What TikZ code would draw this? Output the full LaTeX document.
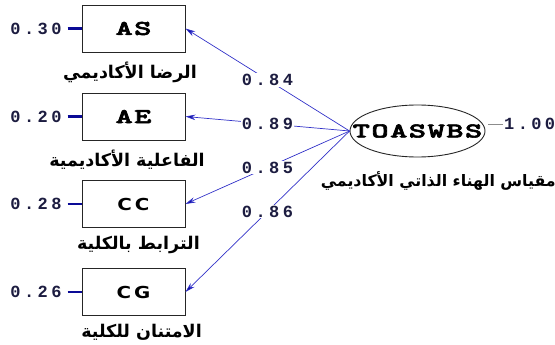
\documentclass[tikz,border=0pt]{standalone}
\usepackage{fontspec}
\usetikzlibrary{arrows.meta,shapes.geometric}
\TeXXeTstate=1
\newfontfamily\numfont[LetterSpace=20]{Liberation Mono}
\newfontfamily\slabfont[Extension=.otf, LetterSpace=5, FakeBold=2.5]{lmmonolt10-bold}
\newfontfamily\sansboxfont[LetterSpace=15]{DejaVu Sans}
\newfontfamily\arabicfont[Script=Arabic]{DejaVu Sans}
\definecolor{numcol}{RGB}{28,28,64}
\definecolor{arrcol}{RGB}{50,50,200}
\definecolor{errcol}{RGB}{10,10,150}
\newcommand{\wide}[1]{\scalebox{1.55}[1]{#1}}
\newcommand{\widesans}[1]{\scalebox{1.2}[1]{#1}}
\tikzset{
  obs/.style={draw=black!85, line width=0.9pt, minimum width=103pt, minimum height=47pt, inner sep=0pt, font=\slabfont\fontsize{21}{21}\selectfont},
  obss/.style={obs, font=\sansboxfont\bfseries\fontsize{16.5}{16.5}\selectfont},
  lat/.style={draw=black!85, line width=0.9pt, ellipse, minimum width=135pt, minimum height=52pt, inner sep=0pt},
  lattext/.style={inner sep=0pt, font=\slabfont\fontsize{21}{21}\selectfont},
  num/.style={inner sep=1pt, text=numcol, font=\numfont\bfseries\fontsize{17}{17}\selectfont},
  lab/.style={num, fill=white, inner sep=1pt},
  arr/.style={draw=arrcol, line width=0.7pt, -{Stealth[length=10pt,width=5.5pt,fill=errcol]}},
  err/.style={draw=errcol, line width=2.4pt, shorten <=5pt},
  ar/.style={inner sep=0pt, font=\arabicfont\bfseries\fontsize{17.5}{17.5}\selectfont},
  arbig/.style={ar, font=\arabicfont\bfseries\fontsize{15.8}{15.8}\selectfont}
}
\begin{document}
\begin{tikzpicture}[x=1pt,y=-1pt]
\useasboundingbox (0,0) rectangle (555,345);
\node[obs] (AS) at (133.5,28.5) {\wide{AS}};
\node[obs] (AE) at (133.5,116.5) {\wide{AE}};
\node[obss] (CC) at (133.5,204) {\widesans{CC}};
\node[obss] (CG) at (133.5,292) {\widesans{CG}};
\node[lat] (T) at (417.5,131) {};
\node[lattext] (Tt) at (T.center) {\wide{TOASWBS}};
% error variances
\node[num] (eAS) at (36,28.5) {0.30};
\node[num] (eAE) at (36,116.5) {0.20};
\node[num] (eCC) at (36,204) {0.28};
\node[num] (eCG) at (36,292) {0.26};
\draw[err] (eAS.east) -- (AS.west);
\draw[err] (eAE.east) -- (AE.west);
\draw[err] (eCC.east) -- (CC.west);
\draw[err] (eCG.east) -- (CG.west);
% loadings
\draw[arr] (T.west) -- node[lab] (l1) {0.84} (AS.east);
\draw[arr] (T.west) -- node[lab] (l2) {0.89} (AE.east);
\draw[arr] (T.west) -- node[lab] (l3) {0.85} (CC.east);
\draw[arr] (T.west) -- node[lab] (l4) {0.86} (CG.east);
% latent variance
\node[num, anchor=west] (v) at (503,124) {1.00};
\coordinate (vl) at (488,124);
\draw[black!45, line width=0.8pt] (vl) -- (v.west);
% arabic labels
\node[ar, anchor=east] (a1) at (197,72) {\beginR الرضا الأكاديمي\endR};
\node[ar, anchor=east] (a2) at (205,160) {\beginR الفاعلية الأكاديمية\endR};
\node[ar, anchor=east] (a3) at (200,245) {\beginR الترابط بالكلية\endR};
\node[ar, anchor=east] (a4) at (202,332) {\beginR الامتنان للكلية\endR};
\node[arbig, anchor=east] (a5) at (556,181) {\beginR مقياس الهناء الذاتي الأكاديمي\endR};
\end{tikzpicture}
\end{document}
